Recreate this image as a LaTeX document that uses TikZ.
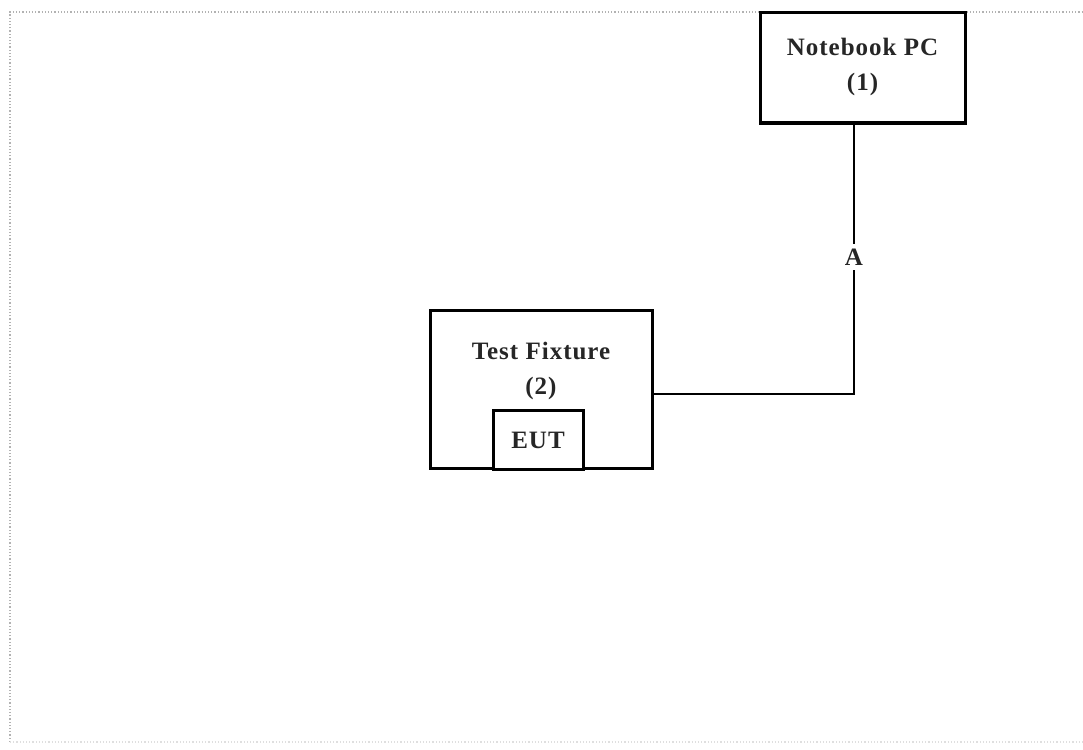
\documentclass[tikz,border=0pt]{standalone}
\usepackage{fontspec}
\setmainfont{Liberation Serif}
\newfontfamily\lblfont[LetterSpace=4]{Liberation Serif}
\begin{document}
\begin{tikzpicture}[x=1pt,y=-1pt,
  boxst/.style={draw=black,line width=3pt,rectangle,inner sep=0pt},
  lbl/.style={font=\lblfont\fontsize{25}{35}\selectfont\bfseries,text=black!85,align=center},
  wire/.style={draw=black,line width=2.6pt}]
\useasboundingbox (0,0) rectangle (1083,749);
% frame
\draw[gray!60,dotted,line width=1.2pt] (10,742) -- (10,12) -- (1083,12);
\draw[gray!25,dotted,line width=1.2pt] (10,742) -- (1083,742);
% boxes
\node[boxst,minimum width=205pt,minimum height=110pt] (nb) at (862.5,68) {};
\node[lbl] (nbt) at (862.5,67) {Notebook PC\\(1)};
\node[boxst,minimum width=222pt,minimum height=158pt] (tf) at (541,389) {};
\node[lbl] (tft) at (541,371) {Test Fixture\\(2)};
\node[boxst,minimum width=90pt,minimum height=59pt,fill=white] (eut) at (538,439.5) {};
\node[lbl] (eutt) at (538,440) {EUT};
% connector
\node[lbl,inner sep=5pt] (A) at (854,257) {A};
\coordinate (c) at (854,394);
\draw[wire] (nb.south -| A.center) -- (A.north);
\draw[wire] (A.south) -- (c) -- (c -| tf.east);
\end{tikzpicture}
\end{document}
